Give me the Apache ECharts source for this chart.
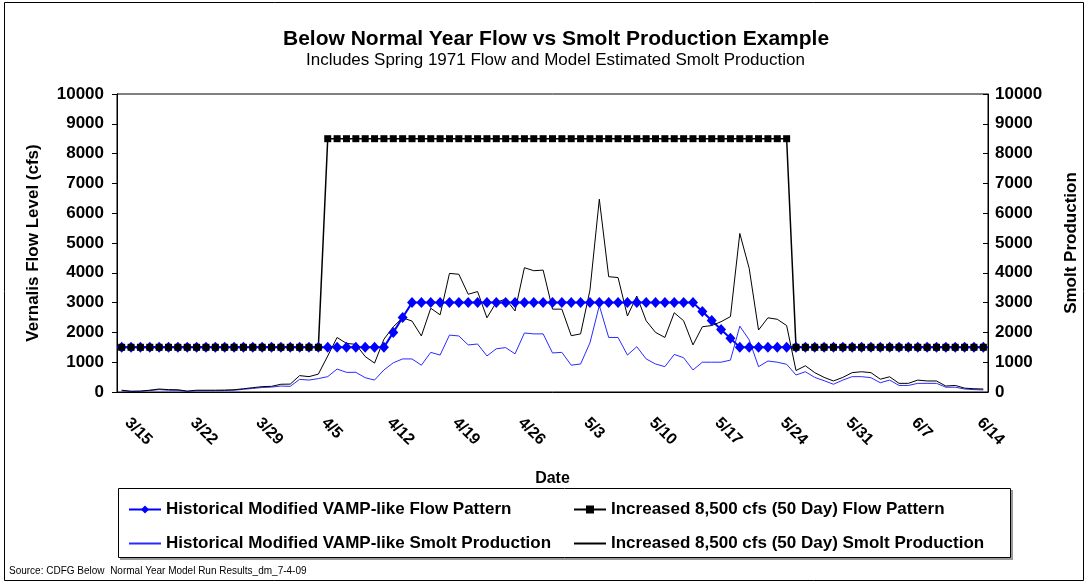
<!DOCTYPE html>
<html>
<head>
<meta charset="utf-8">
<script src="https://cdn.jsdelivr.net/npm/echarts/dist/echarts.min.js"></script>
<style>
  html, body { margin: 0; padding: 0; background: #fff; }
  #chart { width: 1088px; height: 584px; }
</style>
</head>
<body>
<div id="chart"></div>
<script>
// categories: one per day, 3/15 .. 6/15
var dates = [
  '3/15','3/16','3/17','3/18','3/19','3/20','3/21','3/22','3/23','3/24','3/25','3/26','3/27','3/28','3/29','3/30','3/31',
  '4/1','4/2','4/3','4/4','4/5','4/6','4/7','4/8','4/9','4/10','4/11','4/12','4/13','4/14','4/15','4/16','4/17','4/18','4/19','4/20',
  '4/21','4/22','4/23','4/24','4/25','4/26','4/27','4/28','4/29','4/30',
  '5/1','5/2','5/3','5/4','5/5','5/6','5/7','5/8','5/9','5/10','5/11','5/12','5/13','5/14','5/15','5/16','5/17','5/18','5/19','5/20',
  '5/21','5/22','5/23','5/24','5/25','5/26','5/27','5/28','5/29','5/30','5/31',
  '6/1','6/2','6/3','6/4','6/5','6/6','6/7','6/8','6/9','6/10','6/11','6/12','6/13','6/14','6/15'
];

// Historical Modified VAMP-like Flow Pattern (cfs)
var flowHist = [
  1500,1500,1500,1500,1500,1500,1500,1500,1500,1500,1500,1500,1500,1500,1500,1500,1500,1500,1500,1500,
  1500,1500,1500,1500,1500,1500,1500,1500,1500,2000,2500,3000,3000,3000,3000,3000,3000,3000,3000,3000,
  3000,3000,3000,3000,3000,3000,3000,3000,3000,3000,3000,3000,3000,3000,3000,3000,3000,3000,3000,3000,
  3000,3000,2700,2400,2100,1800,1500,1500,1500,1500,1500,1500,1500,1500,1500,1500,1500,1500,1500,1500,
  1500,1500,1500,1500,1500,1500,1500,1500,1500,1500,1500,1500,1500
];

// Increased 8,500 cfs (50 Day) Flow Pattern (cfs)
var flowHigh = [
  1500,1500,1500,1500,1500,1500,1500,1500,1500,1500,1500,1500,1500,1500,1500,1500,1500,1500,1500,1500,
  1500,1500,8500,8500,8500,8500,8500,8500,8500,8500,8500,8500,8500,8500,8500,8500,8500,8500,8500,8500,
  8500,8500,8500,8500,8500,8500,8500,8500,8500,8500,8500,8500,8500,8500,8500,8500,8500,8500,8500,8500,
  8500,8500,8500,8500,8500,8500,8500,8500,8500,8500,8500,8500,1500,1500,1500,1500,1500,1500,1500,1500,
  1500,1500,1500,1500,1500,1500,1500,1500,1500,1500,1500,1500,1500
];

// Historical Modified VAMP-like Smolt Production
var smoltHist = [
  40,20,25,50,80,60,55,20,40,45,45,50,60,90,120,150,165,200,190,425,
  400,450,515,770,660,660,480,400,740,980,1110,1110,900,1330,1240,1910,1880,1580,1610,1210,
  1450,1490,1280,1980,1950,1950,1310,1330,900,940,1650,2900,1830,1830,1240,1520,1110,940,850,1260,
  1150,740,1000,1000,1000,1070,2210,1750,850,1040,1000,930,570,680,490,380,260,400,515,515,
  480,310,400,220,220,290,290,290,160,160,100,80,70
];

// Increased 8,500 cfs (50 Day) Smolt Production
var smoltHigh = [
  60,25,30,60,100,80,75,30,60,60,60,65,75,110,145,180,190,260,265,550,
  515,600,1210,1830,1630,1600,1190,970,1770,2190,2490,2380,1880,2810,2590,3980,3950,3280,3370,2490,
  3010,3120,2720,4170,4070,4090,2780,2780,1890,1950,3420,6470,3870,3840,2550,3220,2390,2000,1830,2660,
  2390,1580,2190,2230,2360,2530,5320,4150,2080,2490,2440,2230,720,880,650,490,370,490,650,680,
  650,430,510,290,290,400,370,370,200,220,130,110,100
];

var yTicks = [0, 10000, 1000]; // min, max, step

var FONT = '"Liberation Sans", Arial, sans-serif';
var names = [
  'Historical Modified VAMP-like Flow Pattern',
  'Increased 8,500 cfs (50 Day) Flow Pattern',
  'Historical Modified VAMP-like Smolt Production',
  'Increased 8,500 cfs (50 Day) Smolt Production'
];

var chart = echarts.init(document.getElementById('chart'));

function valueAxis(pos, name) {
  return {
    type: 'value',
    position: pos,
    min: yTicks[0],
    max: yTicks[1],
    interval: yTicks[2],
    name: name,
    nameLocation: 'middle',
    nameGap: 75,
    nameTextStyle: { fontFamily: FONT, fontWeight: 'bold', fontSize: 17, color: '#000' },
    axisLine: { show: true, lineStyle: { color: '#000', width: 1 } },
    axisTick: { show: true, inside: pos === 'right', length: 5, lineStyle: { color: '#000' } },
    axisLabel: {
      margin: pos === 'left' ? 13 : 7,
      formatter: function (v) { return String(v); },
      fontFamily: FONT, fontWeight: 'bold', fontSize: 17, color: '#000'
    },
    splitLine: { show: false }
  };
}

var legendText = { fontFamily: FONT, fontWeight: 'bold', fontSize: 17, color: '#000' };

chart.setOption({
  backgroundColor: '#fff',
  animation: false,
  title: [{
    text: 'Below Normal Year Flow vs Smolt Production Example',
    left: 278, top: 24,
    textStyle: { fontFamily: FONT, fontWeight: 'bold', fontSize: 21, color: '#000' }
  }, {
    text: 'Includes Spring 1971 Flow and Model Estimated Smolt Production',
    left: 301, top: 47,
    textStyle: { fontFamily: FONT, fontWeight: 'normal', fontSize: 17, color: '#000' }
  }],
  grid: {
    left: 117, right: 97, top: 94, bottom: 192,
    show: true, borderColor: '#000', borderWidth: 1, backgroundColor: '#fff'
  },
  legend: [{
    orient: 'vertical',
    left: 123, top: 496,
    itemGap: 17, itemWidth: 32, itemHeight: 10,
    data: [names[0], { name: names[2], itemStyle: { opacity: 0 } }],
    textStyle: legendText
  }, {
    orient: 'vertical',
    left: 568, top: 496,
    itemGap: 17, itemWidth: 32, itemHeight: 10,
    data: [names[1], { name: names[3], itemStyle: { opacity: 0 } }],
    textStyle: legendText
  }],
  xAxis: {
    type: 'category',
    data: dates,
    boundaryGap: true,
    name: 'Date',
    nameLocation: 'middle',
    nameGap: 79,
    nameTextStyle: { fontFamily: FONT, fontWeight: 'bold', fontSize: 16, color: '#000' },
    axisLine: { lineStyle: { color: '#000' } },
    axisTick: { interval: 6, length: 6, lineStyle: { color: '#000' } },
    axisLabel: {
      interval: 6, rotate: -45, margin: 34, verticalAlign: 'bottom',
      fontFamily: FONT, fontWeight: 'bold', fontSize: 16, color: '#000'
    }
  },
  yAxis: [valueAxis('left', 'Vernalis Flow Level (cfs)'), valueAxis('right', 'Smolt Production')],
  series: [{
    name: names[0], type: 'line', yAxisIndex: 0, data: flowHist,
    symbol: 'diamond', symbolSize: [10, 11], showAllSymbol: true,
    itemStyle: { color: '#0000ff' },
    lineStyle: { color: '#0000ff', width: 2 }
  }, {
    name: names[1], type: 'line', yAxisIndex: 0, data: flowHigh,
    symbol: 'rect', symbolSize: 7, showAllSymbol: true,
    itemStyle: { color: '#000' },
    lineStyle: { color: '#000', width: 1.5 }
  }, {
    name: names[2], type: 'line', yAxisIndex: 1, data: smoltHist,
    symbol: 'none',
    itemStyle: { color: '#2a2aff' },
    lineStyle: { color: '#2a2aff', width: 1 }
  }, {
    name: names[3], type: 'line', yAxisIndex: 1, data: smoltHigh,
    symbol: 'none',
    itemStyle: { color: '#000' },
    lineStyle: { color: '#000', width: 1 }
  }],
  graphic: [{
    type: 'rect', z: -1,
    shape: { x: 4.5, y: 2.5, width: 1079, height: 578 },
    style: { fill: 'none', stroke: '#000', lineWidth: 1 }
  }, {
    type: 'rect', z: -1,
    shape: { x: 120, y: 490, width: 893, height: 70 },
    style: { fill: '#999', stroke: 'none' }
  }, {
    type: 'rect', z: -1,
    shape: { x: 118.5, y: 488.5, width: 892, height: 69 },
    style: { fill: '#fff', stroke: '#000', lineWidth: 1 }
  }, {
    type: 'text', left: 9, top: 566,
    style: {
      text: 'Source: CDFG Below  Normal Year Model Run Results_dm_7-4-09',
      fontFamily: '"Liberation Sans Narrow", "Liberation Sans", Arial, sans-serif',
      fontSize: 10, fill: '#000'
    }
  }]
});
</script>
</body>
</html>
